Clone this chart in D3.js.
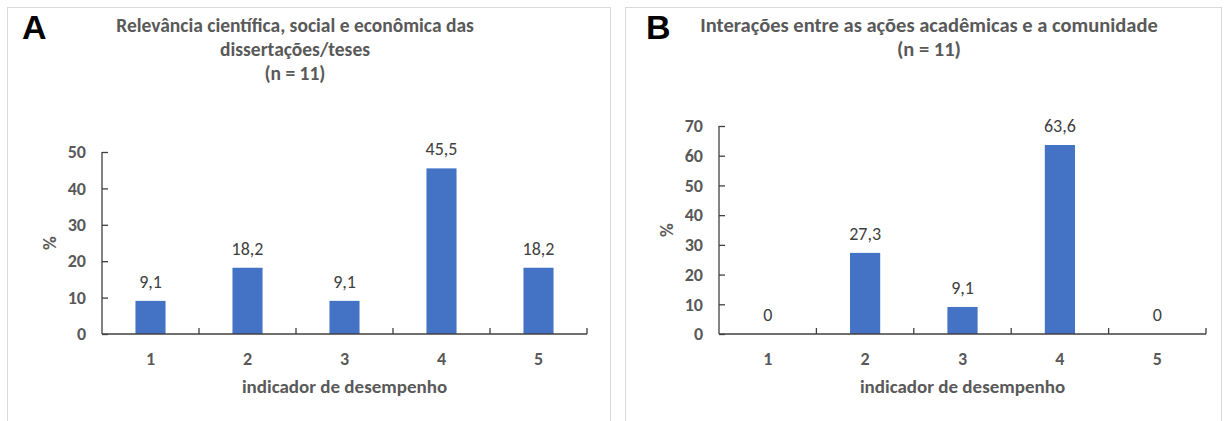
<!DOCTYPE html>
<html>
<head>
<meta charset="utf-8">
<script src="https://cdn.jsdelivr.net/npm/d3@7"></script>
<style>
  html, body { margin: 0; padding: 0; background: #fff; }
  svg { display: block; }
  text { font-family: Carlito, Lato, "Open Sans", sans-serif; }
</style>
</head>
<body>
<svg id="chart" width="1227" height="421"></svg>
<script>
// Categories: performance indicator levels
const categories = ["1", "2", "3", "4", "5"];

// Panel A: scientific, social and economic relevance (%)
const relevanceValues = [9.1, 18.2, 9.1, 45.5, 18.2];
const relevanceTicks = [0, 10, 20, 30, 40, 50];

// Panel B: interactions between academic actions and community (%)
const interactionValues = [0, 27.3, 9.1, 63.6, 0];
const interactionTicks = [0, 10, 20, 30, 40, 50, 60, 70];

const panels = [
  {
    letter: "A",
    title: ["Relevância científica, social e econômica das", "dissertações/teses", "(n = 11)"],
    titleSize: 19.5,
    values: relevanceValues,
    ticks: relevanceTicks,
    frame: [7.5, 7.5, 603, 430],
    letterX: 22,
    titleX: 295,
    plot: { left: 102, right: 587, top: 152, bottom: 334 },
    yLabelX: 49
  },
  {
    letter: "B",
    title: ["Interações entre as ações acadêmicas e a comunidade", "(n = 11)"],
    titleSize: 20.5,
    values: interactionValues,
    ticks: interactionTicks,
    frame: [625.5, 7.5, 596, 430],
    letterX: 646,
    titleX: 929,
    plot: { left: 719, right: 1206, top: 126, bottom: 334 },
    yLabelX: 666
  }
];

const svg = d3.select("#chart");
const fmt = v => String(v).replace(".", ",");
const axisColor = "#404040";
const textColor = "#595959";

panels.forEach(p => {
  const g = svg.append("g");

  g.append("rect")
    .attr("x", p.frame[0]).attr("y", p.frame[1])
    .attr("width", p.frame[2]).attr("height", p.frame[3])
    .attr("fill", "#fff").attr("stroke", "#d9d9d9").attr("stroke-width", 1);

  g.append("text")
    .attr("x", p.letterX).attr("y", 39)
    .style("font-family", "'Liberation Sans', Arial, sans-serif")
    .style("font-weight", "700").style("font-size", "34px")
    .attr("fill", "#000")
    .text(p.letter);

  g.append("text")
    .attr("text-anchor", "middle")
    .attr("fill", textColor)
    .style("font-weight", "700").style("font-size", p.titleSize + "px")
    .selectAll("tspan").data(p.title).join("tspan")
    .attr("x", p.titleX)
    .attr("y", (d, i) => 32 + i * 24)
    .text(d => d);

  const x = d3.scaleBand()
    .domain(categories)
    .range([p.plot.left, p.plot.right])
    .paddingInner(0.69)
    .paddingOuter(0.345);

  const yMax = p.ticks[p.ticks.length - 1];
  const y = d3.scaleLinear()
    .domain([0, yMax])
    .range([p.plot.bottom, p.plot.top]);

  // Bars
  g.selectAll("rect.bar").data(p.values).join("rect")
    .attr("class", "bar")
    .attr("x", (d, i) => x(categories[i]))
    .attr("width", x.bandwidth())
    .attr("y", d => y(d))
    .attr("height", d => y(0) - y(d))
    .attr("fill", "#4472c4");

  // Value labels
  g.selectAll("text.val").data(p.values).join("text")
    .attr("class", "val")
    .attr("x", (d, i) => x(categories[i]) + x.bandwidth() / 2)
    .attr("y", d => y(d) - 13)
    .attr("text-anchor", "middle")
    .attr("fill", "#404040")
    .style("font-size", "18px")
    .text(d => fmt(d));

  // Y axis with inward ticks
  const yAxis = g.append("g")
    .attr("transform", `translate(${p.plot.left},0)`)
    .call(d3.axisRight(y).tickValues(p.ticks).tickSize(6).tickFormat(d3.format("d")));
  yAxis.select(".domain").attr("stroke", axisColor).attr("stroke-width", 1.3)
    .attr("d", `M0,${p.plot.top}V${p.plot.bottom}`);
  yAxis.selectAll(".tick line").attr("stroke", axisColor).attr("stroke-width", 1.3);
  yAxis.selectAll(".tick text")
    .attr("x", -16).attr("text-anchor", "end")
    .attr("fill", textColor)
    .style("font-weight", "700").style("font-size", "18px");

  // X axis: category labels centred, ticks at band boundaries pointing up
  const step = x.step();
  const xAxis = g.append("g").attr("transform", `translate(0,${p.plot.bottom})`);
  xAxis.append("line")
    .attr("x1", p.plot.left).attr("x2", p.plot.right)
    .attr("stroke", axisColor).attr("stroke-width", 1.3);
  xAxis.selectAll("line.tk").data(d3.range(1, categories.length + 1)).join("line")
    .attr("class", "tk")
    .attr("x1", i => p.plot.left + i * step).attr("x2", i => p.plot.left + i * step)
    .attr("y1", 0).attr("y2", -6)
    .attr("stroke", axisColor).attr("stroke-width", 1.3);
  xAxis.selectAll("text").data(categories).join("text")
    .attr("x", d => x(d) + x.bandwidth() / 2)
    .attr("y", 31)
    .attr("text-anchor", "middle")
    .attr("fill", textColor)
    .style("font-weight", "700").style("font-size", "18px")
    .text(d => d);

  g.append("text")
    .attr("x", (p.plot.left + p.plot.right) / 2)
    .attr("y", 393)
    .attr("text-anchor", "middle")
    .attr("fill", textColor)
    .style("font-weight", "700").style("font-size", "19px")
    .text("indicador de desempenho");

  g.append("text")
    .attr("transform", `translate(${p.yLabelX},${(p.plot.top + p.plot.bottom) / 2}) rotate(-90)`)
    .attr("text-anchor", "middle")
    .attr("dy", "0.35em")
    .attr("fill", textColor)
    .style("font-weight", "700").style("font-size", "19px")
    .text("%");
});
</script>
</body>
</html>
